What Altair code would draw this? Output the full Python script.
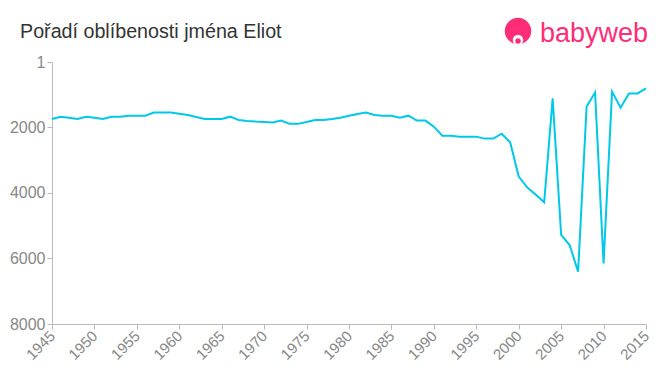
import altair as alt
import pandas as pd

years = list(range(1945, 2016))
ranks = [1740, 1670, 1700, 1740, 1670, 1700, 1740, 1670, 1670, 1640, 1640, 1640, 1545, 1545, 1545,
         1580, 1620, 1680, 1740, 1740, 1740, 1670, 1770, 1800, 1820, 1830, 1850, 1790, 1890, 1890,
         1830, 1770, 1770, 1740, 1700, 1640, 1590, 1545, 1620, 1640, 1640, 1700, 1640, 1790, 1790,
         1975, 2250, 2250, 2280, 2280, 2280, 2340, 2340, 2190, 2460, 3500, 3830, 4050, 4285, 1110,
         5280, 5590, 6400, 1360, 935, 6150, 905, 1395, 960, 960, 805]
y_ticks = [1, 2000, 4000, 6000, 8000]
x_ticks = list(range(1945, 2016, 5))
title_text = "Pořadí oblíbenosti jména Eliot"
logo_text = "babyweb"

df = pd.DataFrame({"year": years, "rank": ranks})

W, H = 594, 262
PINK = "#ff2d78"

line = alt.Chart(df).mark_line(color="#00c8e8", strokeWidth=2).encode(
    x=alt.X("year:Q", scale=alt.Scale(domain=[1945, 2015], nice=False, zero=False),
            axis=alt.Axis(values=x_ticks, format="d", labelAngle=-45, labelAlign="right",
                          labelBaseline="middle", labelFontSize=15, labelColor="#888888",
                          domainColor="#bbbbbb", tickColor="#bbbbbb", tickSize=5,
                          grid=False, title=None, labelPadding=4, labelFont="Liberation Sans")),
    y=alt.Y("rank:Q", scale=alt.Scale(domain=[1, 8000], reverse=True, nice=False, zero=False),
            axis=alt.Axis(values=y_ticks, format="d", labelFontSize=16, labelColor="#888888",
                          domainColor="#bbbbbb", tickColor="#bbbbbb", tickSize=5,
                          grid=False, title=None, labelPadding=2, labelFont="Liberation Sans")),
)

one_df = pd.DataFrame({"t": [title_text], "l": [logo_text]})
title = alt.Chart(one_df).mark_text(align="left", baseline="alphabetic", fontSize=19.7,
                                    color="#333333", font="Liberation Sans").encode(
    text="t:N", x=alt.value(-32), y=alt.value(-24))
logo_txt = alt.Chart(one_df).mark_text(align="left", baseline="middle", fontSize=27,
                                       color=PINK, font="Liberation Sans").encode(
    text="l:N", x=alt.value(488), y=alt.value(-28))
logo_dot = alt.Chart(one_df).mark_point(filled=True, size=700, color=PINK, opacity=1).encode(
    x=alt.value(466), y=alt.value(-31))
logo_face = alt.Chart(one_df).mark_point(filled=True, size=110, color="white", opacity=1).encode(
    x=alt.value(466), y=alt.value(-22))
logo_nose = alt.Chart(one_df).mark_point(filled=True, size=30, color=PINK, opacity=1).encode(
    x=alt.value(466), y=alt.value(-21))

chart = alt.layer(line, title, logo_dot, logo_face, logo_nose, logo_txt).properties(
    width=W, height=H,
    padding={"left": 44, "top": 54, "right": 6, "bottom": 45},
    autosize=alt.AutoSizeParams(type="none"),
).configure_view(stroke=None)

chart.save("out.html", embed_options={"renderer": "svg", "actions": False})
